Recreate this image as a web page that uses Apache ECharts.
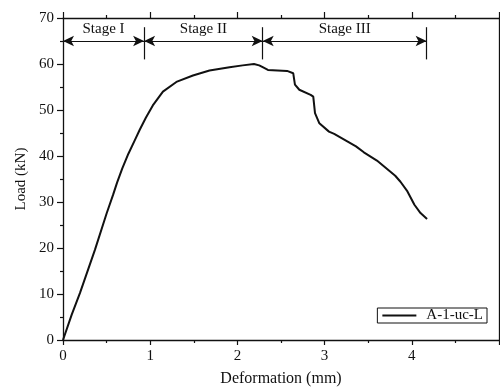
<!DOCTYPE html>
<html>
<head>
<meta charset="utf-8">
<script src="https://cdn.jsdelivr.net/npm/echarts@6/dist/echarts.min.js"></script>
<style>html,body{margin:0;padding:0;background:#fff}#c{width:500px;height:387px}</style>
</head>
<body>
<div id="c"></div>
<script>
const deformation = [0, 0.10, 0.194, 0.366, 0.50, 0.575, 0.62, 0.68, 0.75, 0.82, 0.88, 0.95, 1.03, 1.146, 1.30, 1.49, 1.68, 1.91, 2.06, 2.19, 2.25, 2.29, 2.35, 2.57, 2.64, 2.66, 2.71, 2.84, 2.87, 2.89, 2.94, 3.05, 3.11, 3.36, 3.45, 3.60, 3.81, 3.87, 3.95, 4.03, 4.10, 4.175];
const load = [0, 5.5, 10.2, 19.6, 27.5, 31.6, 34.2, 37.3, 40.5, 43.3, 45.7, 48.3, 51.0, 54.0, 56.1, 57.5, 58.6, 59.3, 59.7, 60.0, 59.7, 59.3, 58.7, 58.5, 58.0, 55.5, 54.4, 53.3, 52.9, 49.3, 47.1, 45.3, 44.8, 42.1, 40.8, 39.0, 35.7, 34.4, 32.3, 29.4, 27.6, 26.3];
const seriesName = 'A-1-uc-L';
const stageBounds = [0, 0.93, 2.29, 4.17];
const stageNames = ['Stage I', 'Stage II', 'Stage III'];
const arrowLoad = 65;
const separatorRange = [61, 68];
const xTicks = [0, 1, 2, 3, 4, 5];
const yTicks = [0, 10, 20, 30, 40, 50, 60, 70];

const font = 'Liberation Serif';
const ink = '#111';
const data = deformation.map((d, i) => [d, load[i]]);

const markData = [];
stageNames.forEach((name, i) => {
  markData.push([
    { coord: [stageBounds[i], arrowLoad], symbol: 'arrow', name: name },
    { coord: [stageBounds[i + 1], arrowLoad], symbol: 'arrow' }
  ]);
});
stageBounds.slice(1).forEach(b => {
  markData.push([
    { coord: [b, separatorRange[0]], symbol: 'none', label: { show: false } },
    { coord: [b, separatorRange[1]], symbol: 'none' }
  ]);
});

const chart = echarts.init(document.getElementById('c'), null, { renderer: 'canvas' });
const axisCommon = {
  type: 'value',
  axisLine: { show: true, onZero: false, lineStyle: { color: ink, width: 1.3 } },
  splitLine: { show: false },
  axisTick: { show: true, inside: false, length: 5, lineStyle: { color: ink, width: 1.2 } },
  minorTick: { show: true, splitNumber: 2, length: 3, lineStyle: { color: ink, width: 1.2 } }
};
chart.setOption({
  animation: false,
  backgroundColor: '#fff',
  grid: { left: 63, right: 1, top: 18, bottom: 47, containLabel: false, outerBoundsMode: 'none' },
  legend: {
    right: 13, top: 308,
    data: [{ name: seriesName, icon: 'rect' }],
    borderColor: ink, borderWidth: 1, borderRadius: 0,
    padding: [0, 4, 0, 5],
    itemWidth: 34, itemHeight: 2,
    textStyle: { fontFamily: font, fontSize: 15, color: ink, lineHeight: 14, padding: [0, 0, 0, 5] }
  },
  xAxis: [
    Object.assign({}, axisCommon, {
      min: xTicks[0], max: xTicks[xTicks.length - 1], interval: 1, position: 'bottom',
      name: 'Deformation (mm)', nameLocation: 'middle', nameGap: 31,
      nameTextStyle: { fontFamily: font, fontSize: 16, color: ink },
      axisLabel: { fontFamily: font, fontSize: 15, color: ink, margin: 9, showMaxLabel: false }
    }),
    Object.assign({}, axisCommon, {
      min: xTicks[0], max: xTicks[xTicks.length - 1], interval: 1, position: 'top',
      axisLabel: { show: false },
      axisTick: { show: true, inside: false, length: 6, lineStyle: { color: ink, width: 1.2 } }
    })
  ],
  yAxis: [
    Object.assign({}, axisCommon, {
      min: yTicks[0], max: yTicks[yTicks.length - 1], interval: 10, position: 'left',
      name: 'Load (kN)', nameLocation: 'middle', nameGap: 30,
      nameTextStyle: { fontFamily: font, fontSize: 15, color: ink },
      axisLabel: { fontFamily: font, fontSize: 15, color: ink, margin: 9 },
      axisTick: { show: true, inside: false, length: 6, lineStyle: { color: ink, width: 1.2 } }
    }),
    Object.assign({}, axisCommon, {
      min: yTicks[0], max: yTicks[yTicks.length - 1], interval: 10, position: 'right',
      axisLabel: { show: false }, axisTick: { show: false }, minorTick: { show: false }
    })
  ],
  series: [{
    name: seriesName,
    type: 'line',
    data: data,
    symbol: 'none',
    smooth: false,
    lineStyle: { color: ink, width: 2 },
    itemStyle: { color: ink },
    markLine: {
      silent: true,
      animation: false,
      symbolSize: [8, 11],
      lineStyle: { color: ink, width: 1.2, type: 'solid' },
      label: {
        show: true, position: 'insideMiddleTop', distance: 4,
        formatter: p => p.name || '',
        fontFamily: font, fontSize: 15, color: ink
      },
      emphasis: { disabled: true },
      data: markData
    }
  }]
});
</script>
</body>
</html>
